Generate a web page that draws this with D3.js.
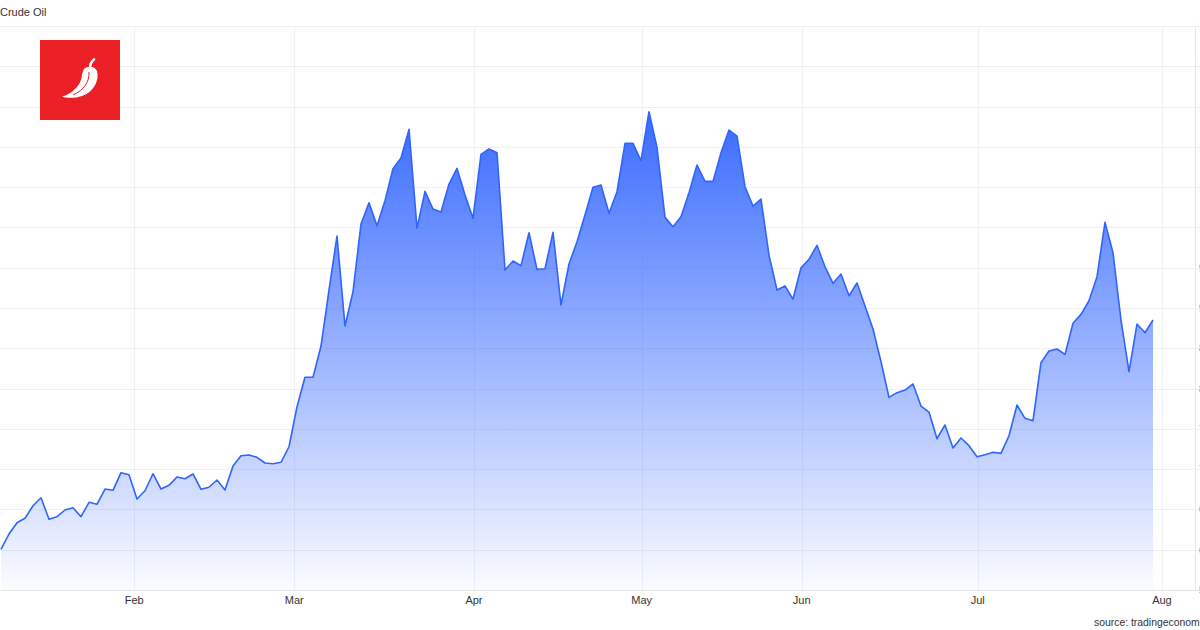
<!DOCTYPE html>
<html>
<head>
<meta charset="utf-8">
<script src="https://cdn.jsdelivr.net/npm/d3@7"></script>
<style>
  html, body { margin: 0; padding: 0; background: #ffffff; overflow: hidden; }
  svg { display: block; font-family: "Liberation Sans", Arial, Helvetica, sans-serif; }
</style>
</head>
<body>
<svg id="chart" width="1200" height="630"></svg>
<script>
// ---- data ----
const title = "Crude Oil";
const source = "source: tradingeconomics.com";

// daily closes (trading-day index 0..144)
const values = [
  60.05, 61.95, 63.35, 63.90, 65.46, 66.45, 63.77, 64.10, 64.93, 65.21,
  64.10, 65.88, 65.64, 67.53, 67.37, 69.56, 69.31, 66.29, 67.32, 69.43,
  67.53, 67.99, 69.02, 68.81, 69.40, 67.50, 67.75, 68.65, 67.41, 70.39,
  71.67, 71.75, 71.47, 70.76, 70.67, 70.85, 72.78, 77.75, 81.40, 81.40,
  85.28, 92.23, 98.93, 87.76, 92.02, 100.42, 103.06, 100.21, 103.31, 107.28,
  108.61, 112.17, 99.92, 104.48, 102.28, 101.91, 105.38, 107.33, 104.02, 101.13,
  109.07, 109.73, 109.27, 94.71, 95.83, 95.25, 99.34, 94.80, 94.87, 99.39,
  90.37, 95.46, 98.22, 101.54, 104.98, 105.26, 101.75, 104.43, 110.43, 110.43,
  108.28, 114.36, 109.94, 101.25, 100.09, 101.33, 104.30, 107.74, 105.72, 105.72,
  109.27, 112.09, 111.34, 105.05, 102.65, 103.52, 96.57, 92.23, 92.73, 91.11,
  95.00, 96.04, 97.78, 95.12, 93.06, 94.22, 91.52, 93.10, 90.25, 87.39,
  83.33, 78.91, 79.49, 79.82, 80.57, 77.83, 77.09, 73.78, 75.48, 72.62,
  73.86, 72.91, 71.54, 71.79, 72.09, 71.96, 74.15, 77.96, 76.31, 76.01,
  83.21, 84.66, 84.91, 84.25, 88.10, 89.21, 90.90, 93.88, 100.63, 96.86,
  88.51, 82.09, 88.01, 86.93, 88.51
];

// month boundaries expressed on the trading-day index axis
const monthLabels = ["Feb", "Mar", "Apr", "May", "Jun", "Jul", "Aug"];
const monthTickIndex = [16.66, 36.66, 59.12, 80.09, 100.09, 122.09, 145.12];

// y-axis ticks (labels sit beyond the cropped right edge)
const yTicks = [55, 60, 65, 70, 75, 80, 85, 90, 95, 100, 105, 110, 115, 120, 125];

// ---- layout ----
const W = 1200, H = 630;
const plot = { left: 0, right: 1195, top: 26, bottom: 590 };

const svg = d3.select("#chart");

const x = d3.scaleLinear().domain([0, values.length - 1]).range([1, 1153]);
const y = d3.scaleLinear().domain([yTicks[0], yTicks[yTicks.length - 1]]).range([plot.bottom, plot.top]);

// gradient
const defs = svg.append("defs");
const grad = defs.append("linearGradient")
  .attr("id", "areaGrad")
  .attr("gradientUnits", "userSpaceOnUse")
  .attr("x1", 0).attr("x2", 0)
  .attr("y1", y(d3.max(values))).attr("y2", plot.bottom);
grad.append("stop").attr("offset", "0%").attr("stop-color", "#3366ff").attr("stop-opacity", 0.97);
grad.append("stop").attr("offset", "55%").attr("stop-color", "#3366ff").attr("stop-opacity", 0.45);
grad.append("stop").attr("offset", "100%").attr("stop-color", "#3366ff").attr("stop-opacity", 0.02);

// horizontal gridlines
svg.append("g").selectAll("line").data(yTicks).join("line")
  .attr("x1", plot.left).attr("x2", W)
  .attr("y1", d => Math.round(y(d)) + 0.5).attr("y2", d => Math.round(y(d)) + 0.5)
  .attr("stroke", d => d === yTicks[0] ? "#e3e3e3" : "#efefef")
  .attr("stroke-width", 1);

// vertical gridlines
svg.append("g").selectAll("line").data(monthTickIndex).join("line")
  .attr("x1", d => Math.round(x(d)) + 0.5).attr("x2", d => Math.round(x(d)) + 0.5)
  .attr("y1", plot.top).attr("y2", plot.bottom)
  .attr("stroke", "#f0f1f4").attr("stroke-width", 1);

// right frame line
svg.append("line")
  .attr("x1", plot.right + 0.5).attr("x2", plot.right + 0.5)
  .attr("y1", plot.top).attr("y2", plot.bottom)
  .attr("stroke", "#e8e8e8");

// area + line
const area = d3.area()
  .x((d, i) => x(i))
  .y0(plot.bottom)
  .y1(d => y(d));
const line = d3.line()
  .x((d, i) => x(i))
  .y(d => y(d));

svg.append("path").datum(values)
  .attr("d", area)
  .attr("fill", "url(#areaGrad)");

svg.append("path").datum(values)
  .attr("d", line)
  .attr("fill", "none")
  .attr("stroke", "#2f64ff")
  .attr("stroke-width", 1.6)
  .attr("stroke-linejoin", "round");

// x axis labels
svg.append("g").selectAll("text").data(monthLabels).join("text")
  .attr("x", (d, i) => x(monthTickIndex[i]))
  .attr("y", 604)
  .attr("text-anchor", "middle")
  .attr("font-size", 11)
  .attr("fill", "#333")
  .text(d => d);

// y axis labels (cropped by the right edge, as in the reference)
svg.append("g").selectAll("text").data(yTicks).join("text")
  .attr("x", 1199)
  .attr("y", d => y(d) + 4)
  .attr("font-size", 11)
  .attr("fill", "#666")
  .text(d => d.toFixed(2));

// title
svg.append("text")
  .attr("x", 0).attr("y", 16)
  .attr("font-size", 11)
  .attr("fill", "#333")
  .text(title);

// source
svg.append("text")
  .attr("x", 1094).attr("y", 626)
  .attr("font-size", 10.4)
  .attr("fill", "#333")
  .text(source);

// logo
const logo = svg.append("g");
logo.append("rect").attr("x", 40).attr("y", 40).attr("width", 80).attr("height", 80).attr("fill", "#ec1f27");
logo.append("path")
  .attr("d", "M84 69 C88 65.5 95 66 97 71 C99.5 80 94 92 82 96 C75 98.5 67 98.2 62 96.8 C71 94 78 88 81 80 C82 76 82 72 84 69 Z")
  .attr("fill", "#ffffff");
logo.append("path")
  .attr("d", "M90 68 C90 64 91.5 61.5 94 59.5")
  .attr("fill", "none").attr("stroke", "#ffffff").attr("stroke-width", 2.6).attr("stroke-linecap", "round");
logo.append("path")
  .attr("d", "M89 72 C89.5 82 84 90 73 95")
  .attr("fill", "none").attr("stroke", "#ec1f27").attr("stroke-width", 1);
</script>
</body>
</html>
